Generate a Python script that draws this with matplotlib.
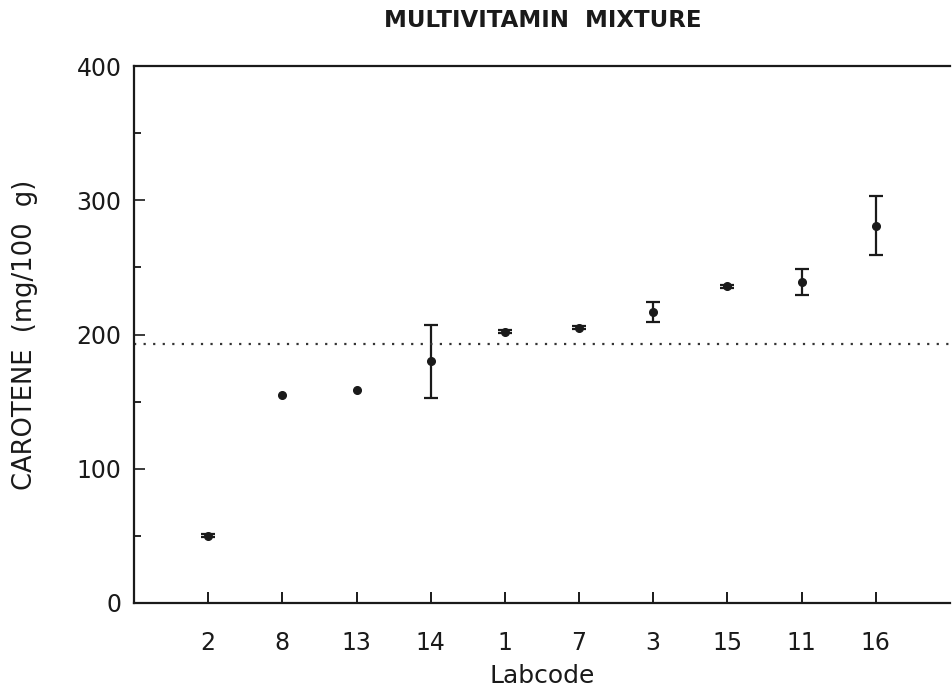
import numpy as np
import matplotlib
matplotlib.use("Agg")
import matplotlib.pyplot as plt
from matplotlib.ticker import MultipleLocator

# lab codes in plotting order, mean carotene and half-width of the error bar
labcodes = ['2', '8', '13', '14', '1', '7', '3', '15', '11', '16']
means = [50, 155, 159, 180, 202, 205, 217, 236, 239, 281]
errors = [1.2, 0, 0, 27, 1.2, 1.2, 7.5, 1.2, 9.5, 22]
consensus = 193

plt.rcParams['font.family'] = 'DejaVu Sans'
ink = '#1a1a1a'

fig = plt.figure(figsize=(9.52, 6.9), dpi=100)
ax = fig.add_axes([0.1408, 0.1261, 0.857, 0.7782])

x = np.arange(1, len(labcodes) + 1)
m = np.array(means, dtype=float)
e = np.array(errors, dtype=float)
has_err = e > 0

# labs with a spread get error bars, single values only a dot
ax.errorbar(x[has_err], m[has_err], yerr=e[has_err], fmt='o', color=ink,
            ms=5.5, elinewidth=1.6, capsize=5, capthick=1.6)
ax.plot(x[~has_err], m[~has_err], 'o', color=ink, ms=5.5)
ax.axhline(consensus, color='#333333', lw=1.6, linestyle=(0, (1, 3.3)))

ax.set_xlim(0, 11)
ax.set_ylim(0, 400)
ax.set_xticks(x)
ax.set_xticklabels(labcodes)
ax.yaxis.set_major_locator(MultipleLocator(100))
ax.yaxis.set_minor_locator(MultipleLocator(50))

ax.tick_params(axis='x', direction='in', length=8, width=1.4, pad=20,
               labelsize=17, colors=ink)
ax.tick_params(axis='y', which='major', direction='in', length=8, width=1.2,
               pad=9, labelsize=17, colors=ink)
ax.tick_params(axis='y', which='minor', direction='in', length=5, width=1.2)

for side in ['left', 'bottom', 'top']:
    ax.spines[side].set_linewidth(1.6)
    ax.spines[side].set_color(ink)
ax.spines['right'].set_visible(False)

ax.set_xlabel('Labcode', fontsize=18, color=ink)
ax.xaxis.set_label_coords(0.5, -0.113)
ax.set_ylabel('CAROTENE  (mg/100  g)', fontsize=18.5, color=ink)
ax.yaxis.set_label_coords(-0.118, 0.5)
fig.text(0.57, 0.971, 'MULTIVITAMIN  MIXTURE', ha='center', va='center',
         fontsize=16.5, fontweight='bold', color=ink)

fig.savefig('out.png', dpi=100, facecolor='white')
